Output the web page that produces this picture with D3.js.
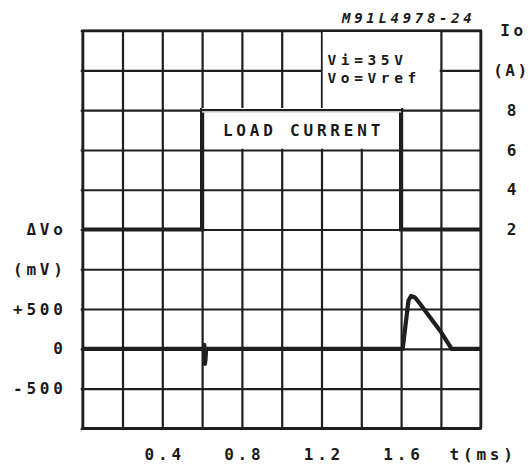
<!DOCTYPE html>
<html>
<head>
<meta charset="utf-8">
<script src="https://cdn.jsdelivr.net/npm/d3@7"></script>
<style>
  html, body { margin: 0; padding: 0; background: #fff; }
  svg { display: block; }
  text { font-family: "DejaVu Sans Mono", monospace; font-weight: bold; fill: #1a1a1a; }
</style>
</head>
<body>
<svg id="chart" width="531" height="468"></svg>
<script>
// ---- data ----
const timeTicks = [0, 0.2, 0.4, 0.6, 0.8, 1.0, 1.2, 1.4, 1.6, 1.8, 2.0];
const timeTickLabels = ["", "", "0.4", "", "0.8", "", "1.2", "", "1.6", "", "t(ms)"];

const dvTicks = [-1000, -500, 0, 500, 1000, 1500, 2000, 2500, 3000, 3500, 4000];
const dvTickLabels = ["", "-500", "0", "+500", "(mV)", "\u0394Vo", "", "", "", "", ""];

const ioTicks = [-8, -6, -4, -2, 0, 2, 4, 6, 8, 10, 12];
const ioTickLabels = ["", "", "", "", "", "2", "4", "6", "8", "(A)", "Io"];

// Load current (A) vs time (ms)
const loadTime    = [0, 0.6, 0.6, 1.6, 1.6, 2.0];
const loadCurrent = [2, 2,   8,   8,   2,   2];

// Output voltage deviation (mV) vs time (ms)
const dvTime  = [0, 0.608, 0.611, 0.614, 0.617, 0.620, 1.608, 1.625, 1.637, 1.650, 1.670, 1.694, 1.745, 1.795, 1.854, 2.0];
const dvValue = [0, 0,     50,    -190,  -140,  0,     0,     356,   607,   664,   645,   570,   397,   230,   0,     0];

const figureCode = "M91L4978-24";
const condLines = ["Vi=35V", "Vo=Vref"];
const loadLabel = "LOAD CURRENT";

// ---- layout ----
const svg = d3.select("#chart");
const L = 82.7, R = 480.7, T = 30.7, B = 428.3;
const W = R - L, H = B - T;

const x = d3.scaleLinear().domain([0, 2.0]).range([L, R]);
const yDv = d3.scaleLinear().domain([-1000, 4000]).range([B, T]);
const yIo = d3.scaleLinear().domain([-8, 12]).range([B, T]);

const ink = "#1f1f1f";
const fs = 16, ls = 3.8;
const fontFam = '"DejaVu Sans Mono", monospace';

// vertical grid + bottom labels
const xAxis = d3.axisBottom(x).tickValues(timeTicks)
  .tickSize(-H).tickPadding(20)
  .tickFormat((d, i) => timeTickLabels[i]);
const gx = svg.append("g").attr("transform", `translate(0,${B})`).call(xAxis);
gx.select(".domain").remove();
gx.selectAll(".tick line").attr("stroke", ink).attr("stroke-width", 2.2);
gx.selectAll(".tick text").attr("font-size", fs).attr("letter-spacing", ls)
  .attr("dx", ls / 2).attr("fill", ink)
  .style("font-family", fontFam).style("font-weight", "bold");

// horizontal grid + left labels
const yAxisL = d3.axisLeft(yDv).tickValues(dvTicks)
  .tickSizeInner(-W).tickSizeOuter(0).tickPadding(16)
  .tickFormat((d, i) => dvTickLabels[i]);
const gy = svg.append("g").attr("transform", `translate(${L},0)`).call(yAxisL);
gy.select(".domain").remove();
gy.selectAll(".tick line").attr("stroke", ink).attr("stroke-width", 2.2).attr("x1", -2);
gy.selectAll(".tick text").attr("font-size", fs).attr("letter-spacing", ls).attr("fill", ink)
  .style("font-family", fontFam).style("font-weight", "bold");

// right labels (Io)
const yAxisR = d3.axisRight(yIo).tickValues(ioTicks)
  .tickSize(0).tickPadding(31)
  .tickFormat((d, i) => ioTickLabels[i]);
const gr = svg.append("g").attr("transform", `translate(${R},0)`).call(yAxisR);
gr.select(".domain").remove();
gr.selectAll(".tick text").attr("font-size", fs)
  .attr("letter-spacing", (d, i) => ioTickLabels[i].length > 2 ? 2.6 : ls)
  .attr("text-anchor", "middle")
  .attr("dx", (d, i) => (ioTickLabels[i].length > 2 ? 2.6 : ls) / 2 - (ioTickLabels[i].length > 2 ? 1.5 : 0))
  .attr("fill", ink)
  .style("font-family", fontFam).style("font-weight", "bold");

// white annotation boxes (hide grid inside)
svg.append("rect")
  .attr("x", x(1.2) + 1.2).attr("y", yIo(12) + 1.2)
  .attr("width", x(1.8) - x(1.2) - 2.4).attr("height", yIo(8) - yIo(12) - 2.4)
  .attr("fill", "#fff");
svg.append("rect")
  .attr("x", x(0.6) + 1.5).attr("y", yIo(8) + 1.2)
  .attr("width", x(1.6) - x(0.6) - 3).attr("height", yIo(6) - yIo(8) - 2.4)
  .attr("fill", "#fff");

// border
svg.append("rect").attr("x", L).attr("y", T).attr("width", W).attr("height", H)
  .attr("fill", "none").attr("stroke", ink).attr("stroke-width", 2.6);

// load current trace
const loadPts = loadTime.map((t, i) => [t, loadCurrent[i]]);
svg.append("path")
  .attr("d", d3.line().x(d => x(d[0])).y(d => yIo(d[1]))(loadPts))
  .attr("fill", "none").attr("stroke", ink).attr("stroke-width", 4.2)
  .attr("stroke-linejoin", "miter");
// the top of the pulse is drawn thin like the grid
svg.append("line")
  .attr("x1", x(0.6)).attr("x2", x(1.6)).attr("y1", yIo(8)).attr("y2", yIo(8))
  .attr("stroke", "#fff").attr("stroke-width", 4.4);
svg.append("line")
  .attr("x1", x(0.6) - 2).attr("x2", x(1.6) + 2).attr("y1", yIo(8)).attr("y2", yIo(8))
  .attr("stroke", ink).attr("stroke-width", 2.2);

// dVo trace
const dvPts = dvTime.map((t, i) => [t, dvValue[i]]);
svg.append("path")
  .attr("d", d3.line().x(d => x(d[0])).y(d => yDv(d[1]))(dvPts))
  .attr("fill", "none").attr("stroke", ink).attr("stroke-width", 4.2)
  .attr("stroke-linejoin", "round");

// texts
svg.append("text").text(figureCode)
  .attr("x", 342).attr("y", 23)
  .attr("font-size", 14).attr("letter-spacing", 3.7)
  .style("font-style", "italic");

condLines.forEach((s, i) => {
  svg.append("text").text(s)
    .attr("x", x(1.2) + 6).attr("y", yIo(12) + 34.5 + i * 17.8)
    .attr("font-size", 14.5).attr("letter-spacing", 4.6);
});

svg.append("text").text(loadLabel)
  .attr("x", (x(0.6) + x(1.6)) / 2 + ls / 2).attr("y", (yIo(8) + yIo(6)) / 2 + 6)
  .attr("text-anchor", "middle")
  .attr("font-size", fs).attr("letter-spacing", ls);
</script>
</body>
</html>
